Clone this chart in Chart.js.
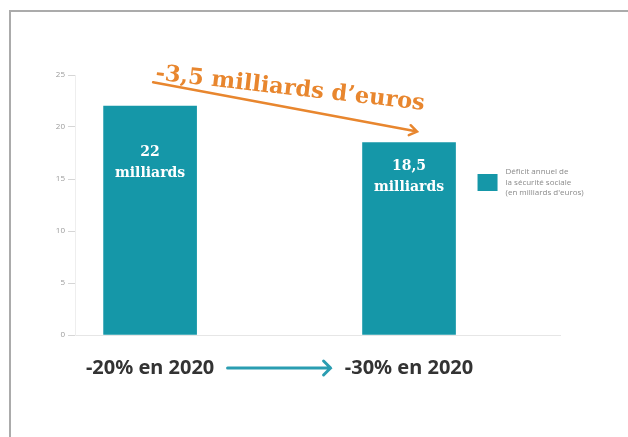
<!DOCTYPE html>
<html lang="fr">
<head>
<meta charset="utf-8">
<title>Déficit de la sécurité sociale</title>
<script src="https://cdn.jsdelivr.net/npm/chart.js@4.4.1/dist/chart.umd.min.js"></script>
<style>
    html, body { margin: 0; padding: 0; background: #fff; }
    #cadre { position: relative; width: 628px; height: 437px; overflow: hidden; background: #fff; }
    #cadre::before {
        content: '';
        position: absolute;
        left: 9px; top: 10px; right: -10px; bottom: -10px;
        border-left: 2px solid #ababab;
        border-top: 2px solid #ababab;
    }
    canvas { position: absolute; left: 0; top: 0; }
</style>
</head>
<body>
<div id="cadre"><canvas id="chartDeficit" width="628" height="437"></canvas></div>
<script>
// ======================== DONNÉES ========================
const scenarios = ['-20% en 2020', '-30% en 2020'];
const positions = [0, 1];
const deficits = [22, 18.5];
const graduations = [0, 5, 10, 15, 20, 25];
const legende = ['Déficit annuel de', 'la sécurité sociale', "(en milliards d'euros)"];

const TEAL = '#1597a8';
const ORANGE = '#e8862e';

const fr = (v) => v.toLocaleString('fr-FR', { maximumFractionDigits: 1 });

// ======================== PLUGINS ========================
// valeur écrite en blanc dans chaque barre
const etiquettesBarres = {
    id: 'etiquettesBarres',
    afterDatasetsDraw(chart) {
        const { ctx, scales } = chart;
        const yMin = scales.y.getPixelForValue(17.6);
        ctx.save();
        ctx.fillStyle = '#fff';
        ctx.textAlign = 'center';
        ctx.textBaseline = 'middle';
        ctx.font = 'bold 14px "DejaVu Serif"';
        chart.getDatasetMeta(0).data.forEach((el, i) => {
            const y = Math.max(el.y + 24, yMin);
            ctx.fillText(fr(deficits[i]), el.x, y);
            ctx.fillText('milliards', el.x, y + 21);
        });
        ctx.restore();
    },
};

// flèche orange entre les deux barres + écart
const ecartDeficit = {
    id: 'ecartDeficit',
    afterDatasetsDraw(chart) {
        const { ctx } = chart;
        const [b1, b2] = chart.getDatasetMeta(0).data;
        const x0 = b1.x + 3, y0 = b1.y - 24;
        const x1 = b2.x + 8, y1 = b2.y - 11;
        const ang = Math.atan2(y1 - y0, x1 - x0);

        ctx.save();
        ctx.strokeStyle = ORANGE;
        ctx.lineWidth = 2.5;
        ctx.lineCap = 'round';
        ctx.beginPath();
        ctx.moveTo(x0, y0);
        ctx.lineTo(x1, y1);
        ctx.moveTo(x1 - 9 * Math.cos(ang - 0.6), y1 - 9 * Math.sin(ang - 0.6));
        ctx.lineTo(x1, y1);
        ctx.lineTo(x1 - 9 * Math.cos(ang + 0.6), y1 - 9 * Math.sin(ang + 0.6));
        ctx.stroke();

        const ecart = deficits[1] - deficits[0];
        ctx.translate((x0 + x1) / 2 + 5, (y0 + y1) / 2 - 18);
        ctx.rotate(0.112);
        ctx.fillStyle = ORANGE;
        ctx.font = 'bold 22.5px "DejaVu Serif"';
        ctx.textAlign = 'center';
        ctx.textBaseline = 'middle';
        ctx.fillText(`${fr(ecart)} milliards d\u2019euros`, 0, 0);
        ctx.restore();
    },
};

// flèche bleue entre les deux scénarios
const flecheScenarios = {
    id: 'flecheScenarios',
    afterDraw(chart) {
        const { ctx, scales } = chart;
        const mid = (scales.x.getPixelForValue(positions[0]) + scales.x.getPixelForValue(positions[1])) / 2;
        const y = 368;
        const xa = mid - 52, xb = mid + 51;
        ctx.save();
        ctx.strokeStyle = '#2a9db1';
        ctx.lineWidth = 3;
        ctx.lineCap = 'round';
        ctx.beginPath();
        ctx.moveTo(xa, y);
        ctx.lineTo(xb, y);
        ctx.moveTo(xb - 7, y - 7);
        ctx.lineTo(xb, y);
        ctx.lineTo(xb - 7, y + 7);
        ctx.stroke();
        ctx.restore();
    },
};

// légende à droite de la deuxième barre
const legendeDeficit = {
    id: 'legendeDeficit',
    afterDraw(chart) {
        const { ctx } = chart;
        const b2 = chart.getDatasetMeta(0).data[1];
        const x = b2.x + b2.width / 2 + 22;
        const y = 174;
        ctx.save();
        ctx.fillStyle = TEAL;
        ctx.fillRect(x, y, 20, 17);
        ctx.fillStyle = '#8a8a8a';
        ctx.font = '8px "Open Sans"';
        ctx.textBaseline = 'middle';
        legende.forEach((l, i) => ctx.fillText(l, x + 28, y - 2 + i * 10.5));
        ctx.restore();
    },
};

// ======================== GRAPHIQUE ========================
new Chart(document.getElementById('chartDeficit'), {
    type: 'bar',
    data: {
        datasets: [
            {
                label: legende.join(' '),
                data: positions.map((x, i) => ({ x, y: deficits[i] })),
                backgroundColor: TEAL,
                barThickness: 93,
            },
        ],
    },
    options: {
        responsive: false,
        animation: false,
        devicePixelRatio: 1,
        layout: { padding: { top: 75, right: 68, bottom: 0, left: 0 } },
        plugins: {
            legend: { display: false },
            tooltip: { enabled: false },
        },
        scales: {
            x: {
                type: 'linear',
                offset: false,
                min: -0.29,
                max: 1.583,
                afterBuildTicks: (s) => { s.ticks = positions.map((v) => ({ value: v })); },
                afterFit: (s) => { s.height = 102; },
                ticks: {
                    callback: (v, i) => scenarios[i],
                    font: { family: '"Noto Sans"', size: 20, weight: 'bold' },
                    color: '#333',
                    padding: 21,
                    maxRotation: 0,
                    autoSkip: false,
                },
                grid: { display: false, drawTicks: false },
                border: { color: '#e6e6e6' },
            },
            y: {
                min: 0,
                max: 25,
                afterBuildTicks: (s) => { s.ticks = graduations.map((v) => ({ value: v })); },
                afterFit: (s) => { s.width = 75; },
                ticks: {
                    font: { family: '"Open Sans"', size: 8 },
                    color: '#9a9a9a',
                    padding: 3,
                },
                grid: { drawOnChartArea: false, tickLength: 7, color: '#d6d6d6' },
                border: { color: '#eeeeee' },
            },
        },
    },
    plugins: [etiquettesBarres, ecartDeficit, flecheScenarios, legendeDeficit],
});
</script>
</body>
</html>
